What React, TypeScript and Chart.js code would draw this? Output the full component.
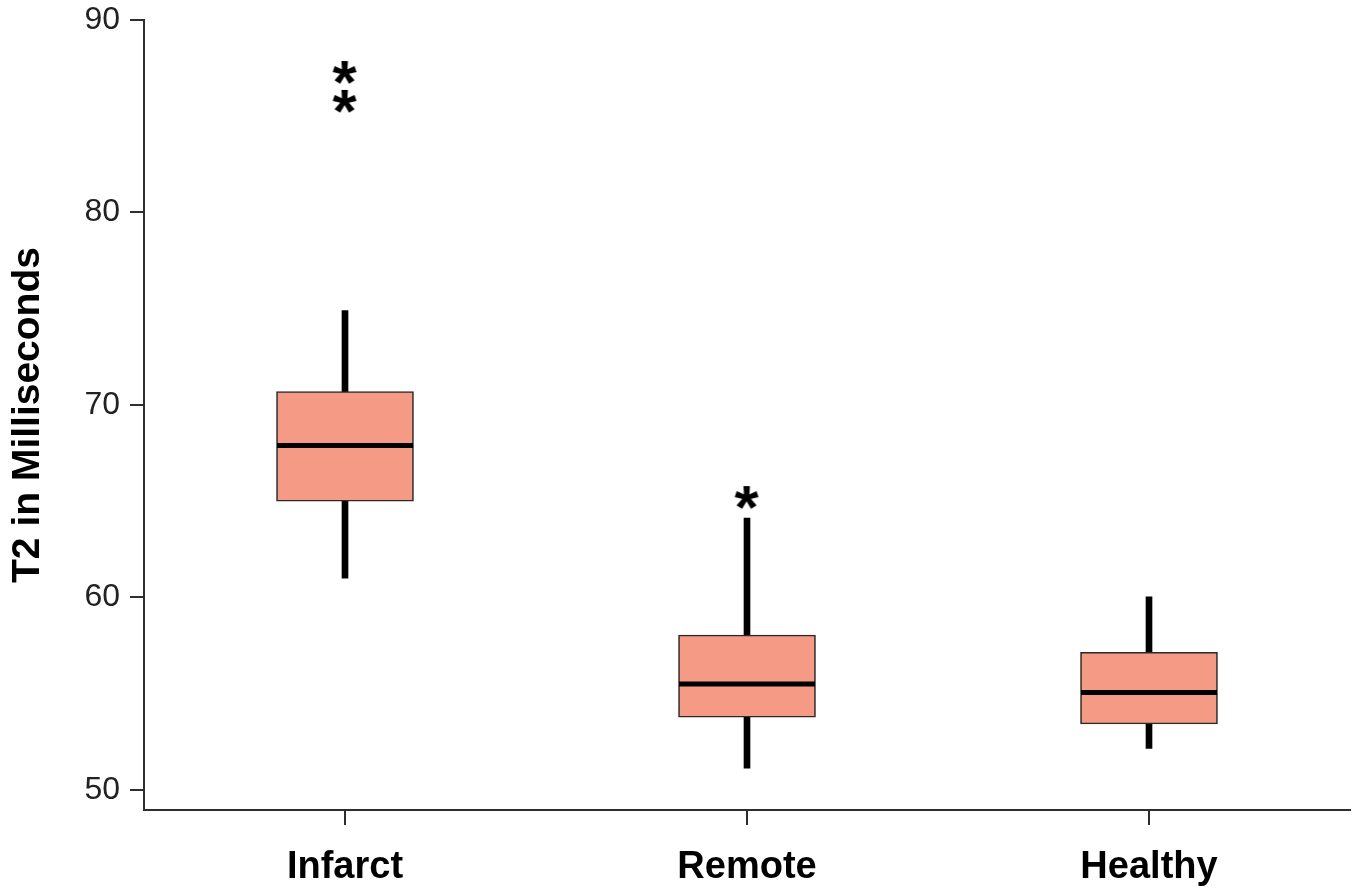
import { useEffect, useRef } from 'react';
import { Chart, registerables } from 'chart.js';

Chart.register(...registerables);

const categories = ['Infarct', 'Remote', 'Healthy'];
const whiskerLow = [61.0, 51.13, 52.16];
const whiskerHigh = [74.9, 64.13, 60.04];
const q1 = [65.0, 53.78, 53.43];
const q3 = [70.7, 58.05, 57.15];
const medians = [67.9, 55.51, 55.07];
const outlierCategories = ['Infarct', 'Infarct', 'Remote'];
const outlierValues = [87.27, 85.77, 65.19];
const yTicks = [50, 60, 70, 80, 90];
const yMin = 48.96;
const yMax = 90;

const FILL = '#F49A85';
const AXIS = '#2e2e2e';

function makeAsterisk(): HTMLCanvasElement {
  const size = 62;
  const font = `bold ${size}px "Liberation Sans", Arial, sans-serif`;
  const probe = document.createElement('canvas').getContext('2d')!;
  probe.font = font;
  const m = probe.measureText('*');
  const w = Math.ceil(m.actualBoundingBoxLeft + m.actualBoundingBoxRight) + 2;
  const h = Math.ceil(m.actualBoundingBoxAscent + m.actualBoundingBoxDescent) + 2;
  const c = document.createElement('canvas');
  c.width = w;
  c.height = h;
  const ctx = c.getContext('2d')!;
  ctx.font = font;
  ctx.fillStyle = '#000';
  ctx.textBaseline = 'alphabetic';
  ctx.fillText('*', 1 + m.actualBoundingBoxLeft, 1 + m.actualBoundingBoxAscent);
  return c;
}

export default function App() {
  const ref = useRef<HTMLCanvasElement | null>(null);

  useEffect(() => {
    document.body.style.margin = '0';
    if (!ref.current) return;
    const star = makeAsterisk();
    const chart = new Chart(ref.current, {
      type: 'bar',
      data: {
        labels: categories,
        datasets: [
          {
            type: 'line',
            label: 'outliers',
            data: outlierCategories.map((c, i) => ({ x: c, y: outlierValues[i] })) as any,
            showLine: false,
            pointStyle: star as any,
            pointRadius: 10,
            order: 0,
          } as any,
          {
            type: 'line',
            label: 'median',
            data: medians,
            showLine: false,
            pointStyle: 'line',
            pointRadius: 68,
            pointHoverRadius: 68,
            pointBorderWidth: 5,
            borderColor: '#000',
            pointBorderColor: '#000',
            order: 1,
          } as any,
          {
            type: 'bar',
            label: 'box',
            data: q1.map((v, i) => [v, q3[i]]) as any,
            backgroundColor: FILL,
            borderColor: '#2a2a2a',
            borderWidth: 1.6,
            borderSkipped: false,
            barThickness: 137,
            grouped: false,
            order: 2,
          } as any,
          {
            type: 'bar',
            label: 'whisker',
            data: whiskerLow.map((v, i) => [v, whiskerHigh[i]]) as any,
            backgroundColor: '#000',
            borderWidth: 0,
            barThickness: 6,
            grouped: false,
            order: 3,
          } as any,
        ],
      },
      options: {
        responsive: false,
        animation: false,
        layout: { autoPadding: false, padding: { top: 20, right: 7, left: 0, bottom: 0 } },
        plugins: {
          legend: { display: false },
          tooltip: { enabled: false },
        },
        scales: {
          x: {
            type: 'category',
            offset: true,
            grid: {
              display: true,
              drawOnChartArea: false,
              offset: false,
              tickLength: 15,
              color: AXIS,
              lineWidth: 2,
            },
            border: { display: true, color: AXIS, width: 2 },
            ticks: {
              color: '#000',
              padding: 20,
              font: { family: '"Liberation Sans", Arial, sans-serif', size: 38, weight: 'bold' },
            },
            afterFit: (s: any) => {
              s.height = 81;
              s.paddingLeft = 0;
              s.paddingRight = 0;
            },
          },
          y: {
            type: 'linear',
            min: yMin,
            max: yMax,
            afterBuildTicks: (s: any) => {
              s.ticks = yTicks.map((v) => ({ value: v }));
            },
            grid: {
              display: true,
              drawOnChartArea: false,
              tickLength: 14,
              color: AXIS,
              lineWidth: 2,
            },
            border: { display: true, color: AXIS, width: 2 },
            ticks: {
              color: '#222',
              padding: 10,
              font: { family: '"Liberation Sans", Arial, sans-serif', size: 32 },
            },
            title: {
              display: true,
              text: 'T2 in Milliseconds',
              color: '#000',
              padding: { top: 5, bottom: 0 },
              font: { family: '"Liberation Sans", Arial, sans-serif', size: 39, weight: 'bold' },
            },
            afterFit: (s: any) => {
              s.width = 144;
              s.paddingTop = 0;
              s.paddingBottom = 0;
            },
          },
        },
      },
    });
    return () => chart.destroy();
  }, []);

  return (
    <div style={{ width: 1357, height: 891 }}>
      <canvas ref={ref} width={1357} height={891} />
    </div>
  );
}
